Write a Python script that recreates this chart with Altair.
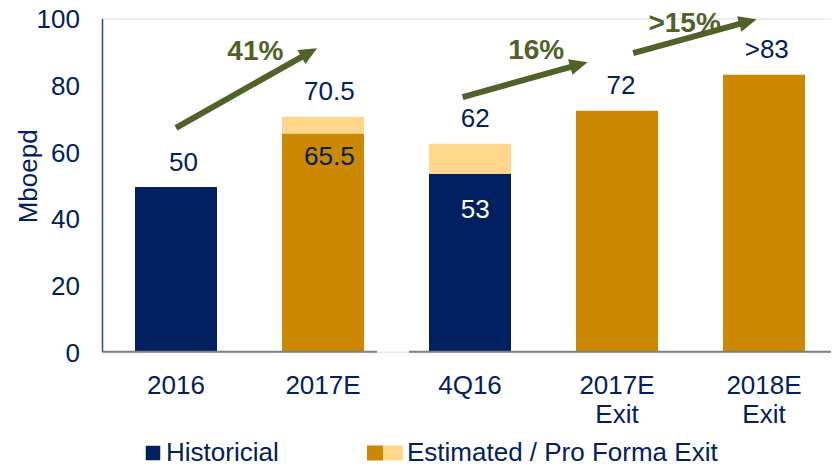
import math
import altair as alt
import pandas as pd

# ---------------- data ----------------
categories = ["2016", "2017E", "4Q16", "2017E Exit", "2018E Exit"]

seg_category = ["2016", "2017E", "2017E", "4Q16", "4Q16", "2017E Exit", "2018E Exit"]
seg_series = ["Historicial", "Estimated", "Pro Forma", "Historicial", "Pro Forma", "Estimated", "Estimated"]
seg_start = [0, 0, 65.5, 0, 53.4, 0, 0]
seg_end = [49.4, 65.5, 70.5, 53.4, 62.4, 72.3, 83.1]

series_names = ["Historicial", "Estimated", "Pro Forma"]
legend_labels = ["Historicial", "", "Estimated / Pro Forma Exit"]

label_category = ["2016", "2017E", "2017E", "4Q16", "4Q16", "2017E Exit", "2018E Exit"]
label_text = ["50", "70.5", "65.5", "62", "53", "72", ">83"]
label_value = [49.4, 70.5, 65.5, 62.4, 53.4, 72.3, 83.1]
label_place = ["above", "above", "inside", "above", "inside_dark", "above", "above"]

# growth arrows; x in category slots (0 = 2016 ... 4 = 2018E Exit)
arrow_x0 = [0.0, 1.95, 3.11]
arrow_y0 = [67.2, 76.4, 89.6]
arrow_x1 = [0.96, 2.80, 3.95]
arrow_y1 = [91.1, 86.9, 99.8]
growth_text = ["41%", "16%", ">15%"]
growth_x = [0.54, 2.45, 3.46]
growth_y = [89.9, 90.1, 98.4]

# broken baseline (slot units)
base_x0 = [-0.5, 1.585]
base_x1 = [1.367, 4.5]

# ---------------- style ----------------
NAVY = "#002060"
GOLD = "#CC8800"
LIGHT = "#FFD68A"
OLIVE = "#4F6228"
GRAY = "#808080"
AXIS_BLUE = "#2B4A9B"
FONT = "Liberation Sans"
COLORS = [NAVY, GOLD, LIGHT]

PLOT_W = 729.0
PLOT_H = 333.2
STEP = 147.0
BAR = 82.0
FIRST_BAR = 33.0

pad_inner = 1 - BAR / STEP
pad_outer = (PLOT_W / STEP - len(categories) + pad_inner) / 2
leftover = PLOT_W - STEP * (len(categories) - pad_inner)
band_align = FIRST_BAR / leftover
q_lo = -(FIRST_BAR + BAR / 2) / STEP
q_hi = q_lo + PLOT_W / STEP
px_per_y = PLOT_H / 100.0

# ---------------- tables ----------------
bars_df = pd.DataFrame({"category": seg_category, "series": seg_series,
                        "y": seg_start, "y2": seg_end})
labels_df = pd.DataFrame({"category": label_category, "text": label_text,
                          "y": label_value, "place": label_place})

heads = []
for i in range(len(arrow_x0)):
    dx = (arrow_x1[i] - arrow_x0[i]) * STEP
    dy = (arrow_y1[i] - arrow_y0[i]) * px_per_y
    L = math.hypot(dx, dy)
    back = 10.0
    heads.append({
        "x": arrow_x0[i], "y": arrow_y0[i],
        "xe": arrow_x1[i] - back * dx / L / STEP,
        "ye": arrow_y1[i] - back * dy / L / px_per_y,
        "xt": arrow_x1[i], "yt": arrow_y1[i],
        "angle": math.degrees(math.atan2(dx, dy)),
    })
arrows_df = pd.DataFrame(heads)
tips_df = pd.DataFrame({"x": arrows_df["xt"], "y": arrows_df["yt"], "angle": arrows_df["angle"]})
growth_df = pd.DataFrame({"x": growth_x, "y": growth_y, "text": growth_text})
base_df = pd.DataFrame({"x": base_x0, "x2": base_x1, "y": [0, 0]})

# ---------------- scales / axes ----------------
yscale = alt.Scale(domain=[0, 100], nice=False, zero=True)
yaxis = alt.Axis(values=[0, 20, 40, 60, 80, 100], grid=False, ticks=False, tickSize=0,
                 domainColor=AXIS_BLUE, domainWidth=1.5,
                 labelFont=FONT, labelFontSize=26, labelColor=NAVY, labelPadding=22.5,
                 labelOffset=1.3,
                 title="Mboepd", titleFont=FONT, titleFontSize=26, titleFontWeight="normal",
                 titleColor=NAVY, titleAngle=270, titleX=-65.5, titleY=157.3,
                 titleAlign="center", titleBaseline="alphabetic")
Y = alt.Y("y:Q", scale=yscale, axis=yaxis)

band = alt.Scale(domain=categories, paddingInner=pad_inner, paddingOuter=pad_outer, align=band_align)
xaxis = alt.Axis(domain=False, ticks=False, tickSize=0, labelPadding=20.3, labelFont=FONT,
                 labelFontSize=26, labelColor=NAVY, labelAngle=0, labelBaseline="top",
                 labelLineHeight=29.5, labelExpr="split(datum.label, ' ')", labelLimit=300,
                 title=None)
qscale = alt.Scale(domain=[q_lo, q_hi], nice=False, zero=False)

# one legend per series, placed side by side (gold + light swatches share one label)
legend_specs = [
    dict(legendX=38, legendY=421.5, symbolType="square", symbolSize=210,
         labelFontSize=26, labelOffset=0),
    dict(legendX=265, legendY=426.5, symbolType="M-1,-0.9375L1,-0.9375L1,0.9375L-1,0.9375Z",
         symbolSize=256, labelFontSize=1, labelOffset=0),
    dict(legendX=278, legendY=421.5, symbolType="M-1,-0.75L1,-0.75L1,0.75L-1,0.75Z",
         symbolSize=400, labelFontSize=26, labelOffset=1),
]

Xb = alt.X("category:N", scale=band, axis=None, sort=categories)

layers = []
for i, name in enumerate(series_names):
    spec = legend_specs[i]
    lg = alt.Legend(orient="none", direction="horizontal", title=None, symbolStrokeWidth=0,
                    labelFont=FONT, labelColor=NAVY, padding=0, labelLimit=500,
                    labelExpr=f"'{legend_labels[i]}'", **spec)
    xenc = alt.X("category:N", scale=band, axis=xaxis, sort=categories) if i == 0 else Xb
    layers.append(
        alt.Chart(bars_df).transform_filter(alt.datum.series == name).mark_bar().encode(
            x=xenc, y=Y, y2="y2:Q",
            color=alt.Color("series:N", scale=alt.Scale(domain=[name], range=[COLORS[i]]),
                            legend=lg),
        )
    )

txt_common = dict(font=FONT, fontSize=26, baseline="middle", align="center")
above = alt.Chart(labels_df).transform_filter("datum.place == 'above'").mark_text(
    dy=-24.5, color=NAVY, **txt_common).encode(x=Xb, y=Y, text="text:N")
inside = alt.Chart(labels_df).transform_filter("datum.place == 'inside'").mark_text(
    dy=23.7, color=NAVY, **txt_common).encode(x=Xb, y=Y, text="text:N")
inside_dark = alt.Chart(labels_df).transform_filter("datum.place == 'inside_dark'").mark_text(
    dy=36, color="white", **txt_common).encode(x=Xb, y=Y, text="text:N")

Xq = alt.X("x:Q", scale=qscale, axis=None)
baseline = alt.Chart(base_df).mark_rule(color=GRAY, strokeWidth=2).encode(
    x=Xq, x2="x2:Q", y=Y)
shafts = alt.Chart(arrows_df).mark_rule(color=OLIVE, strokeWidth=6, strokeCap="butt").encode(
    x=Xq, x2="xe:Q", y=Y, y2="ye:Q")
tips = alt.Chart(tips_df).mark_point(shape="M0,0 L0.9,2 L-0.9,2 Z", filled=True, size=324,
                                     color=OLIVE, opacity=1, strokeWidth=0).encode(
    x=Xq, y=Y, angle=alt.Angle("angle:Q", scale=None))
growth = alt.Chart(growth_df).mark_text(font=FONT, fontSize=28, fontWeight="bold", color=OLIVE,
                                        baseline="middle", align="center").encode(
    x=Xq, y=Y, text="text:N")

chart = alt.layer(*layers, baseline, above, inside, inside_dark,
                  shafts, tips, growth).resolve_scale(
    x="independent", color="independent"
).properties(
    width=PLOT_W, height=PLOT_H,
    autosize=alt.AutoSizeParams(type="none"),
    padding={"left": 94, "top": 10.5, "right": 0, "bottom": 115.3},
).configure_view(stroke=None).configure(background="white")

chart.save("out.html", embed_options={"renderer": "svg", "actions": False})
